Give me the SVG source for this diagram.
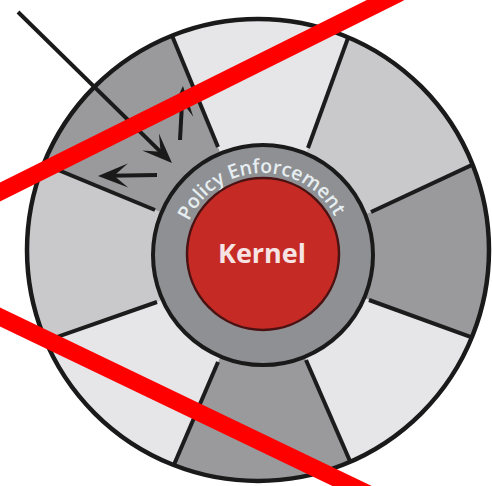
<svg xmlns="http://www.w3.org/2000/svg" width="492" height="486" viewBox="0 0 492 486">
  <style>
    .spoke { stroke: #1c1c1c; stroke-width: 4; fill: none; }
    .dark { fill: #9a9a9c; }
    .light { fill: #c9c9cc; }
    .pale { fill: #e6e6e9; }
    .arrow { stroke: #1a1a1a; stroke-width: 4; fill: none; marker-end: url(#ah); }
    .strike { stroke: #ff0000; stroke-width: 17; fill: none; }
    .ring-label { font-family: "Open Sans", "Liberation Sans", sans-serif; font-size: 19.5px; font-weight: 600; fill: #e6eef1; }
    .kernel-label { font-family: "Open Sans", "Liberation Sans", sans-serif; font-size: 27px; font-weight: 700; fill: #f6e4e4; }
  </style>
  <defs>
    <clipPath id="disc">
      <circle cx="258" cy="250" r="231"/>
    </clipPath>
    <marker id="ah" viewBox="-44 -13 45 26" refX="-12" refY="0" markerWidth="45" markerHeight="26" markerUnits="userSpaceOnUse" orient="auto">
      <path d="M0,0 L-30,-12 L-16,0 L-30,12 Z" fill="#1a1a1a"/>
    </marker>
    <path id="labelArc" d="M182,254 A81,81 0 0 1 344,254"/>
  </defs>
  <rect width="492" height="486" fill="#ffffff"/>

  <g id="outer-wheel">
    <circle cx="258" cy="250" r="231" fill="#e6e6e9"/>
    <g clip-path="url(#disc)">
      <polygon id="seg-top-left" class="dark" points="263,255 155,210 -29,134 128,-71 218,147"/>
      <polygon id="seg-top" class="pale" points="263,255 218,147 128,-71 388,-72 308,148"/>
      <polygon id="seg-top-right" class="light" points="263,255 308,148 388,-72 581,114 371,212"/>
      <polygon id="seg-right" class="dark" points="263,255 371,212 581,114 589,380 369,300"/>
      <polygon id="seg-bottom-right" class="pale" points="263,255 369,300 589,380 400,576 306,360"/>
      <polygon id="seg-bottom" class="dark" points="263,255 306,360 400,576 128,572 218,362"/>
      <polygon id="seg-bottom-left" class="pale" points="263,255 218,362 128,572 -43,372 157,302"/>
      <polygon id="seg-left" class="light" points="263,255 157,302 -43,372 -29,134 155,210"/>
      <line class="spoke" x1="218" y1="147" x2="128" y2="-71"/>
      <line class="spoke" x1="308" y1="148" x2="388" y2="-72"/>
      <line class="spoke" x1="371" y1="212" x2="581" y2="114"/>
      <line class="spoke" x1="369" y1="300" x2="589" y2="380"/>
      <line class="spoke" x1="306" y1="360" x2="400" y2="576"/>
      <line class="spoke" x1="218" y1="362" x2="128" y2="572"/>
      <line class="spoke" x1="157" y1="302" x2="-43" y2="372"/>
      <line class="spoke" x1="155" y1="210" x2="-29" y2="134"/>
    </g>
    <circle cx="258" cy="250" r="231" fill="none" stroke="#1a1a1a" stroke-width="4.5"/>
  </g>

  <g id="policy-enforcement">
    <circle cx="263" cy="255" r="110" fill="#8f9093" stroke="#1a1a1a" stroke-width="4"/>
    <text class="ring-label"><textPath href="#labelArc" startOffset="49%" text-anchor="middle">Policy Enforcement</textPath></text>
  </g>

  <g id="kernel">
    <circle cx="263" cy="254" r="76" fill="#c62a25" stroke="#4a1212" stroke-width="2.5"/>
    <text class="kernel-label" x="262" y="263" text-anchor="middle">Kernel</text>
  </g>

  <g id="connectors">
    <line class="arrow" x1="18" y1="12" x2="163.4" y2="154.6"/>
    <line class="arrow" x1="180" y1="140" x2="182.3" y2="98"/>
    <line class="arrow" x1="157" y1="175" x2="110" y2="175.8"/>
  </g>

  <g id="strikes">
    <line class="strike" x1="-10" y1="197" x2="400" y2="-7"/>
    <line class="strike" x1="-10" y1="312.2" x2="380" y2="499.4"/>
  </g>
</svg>
